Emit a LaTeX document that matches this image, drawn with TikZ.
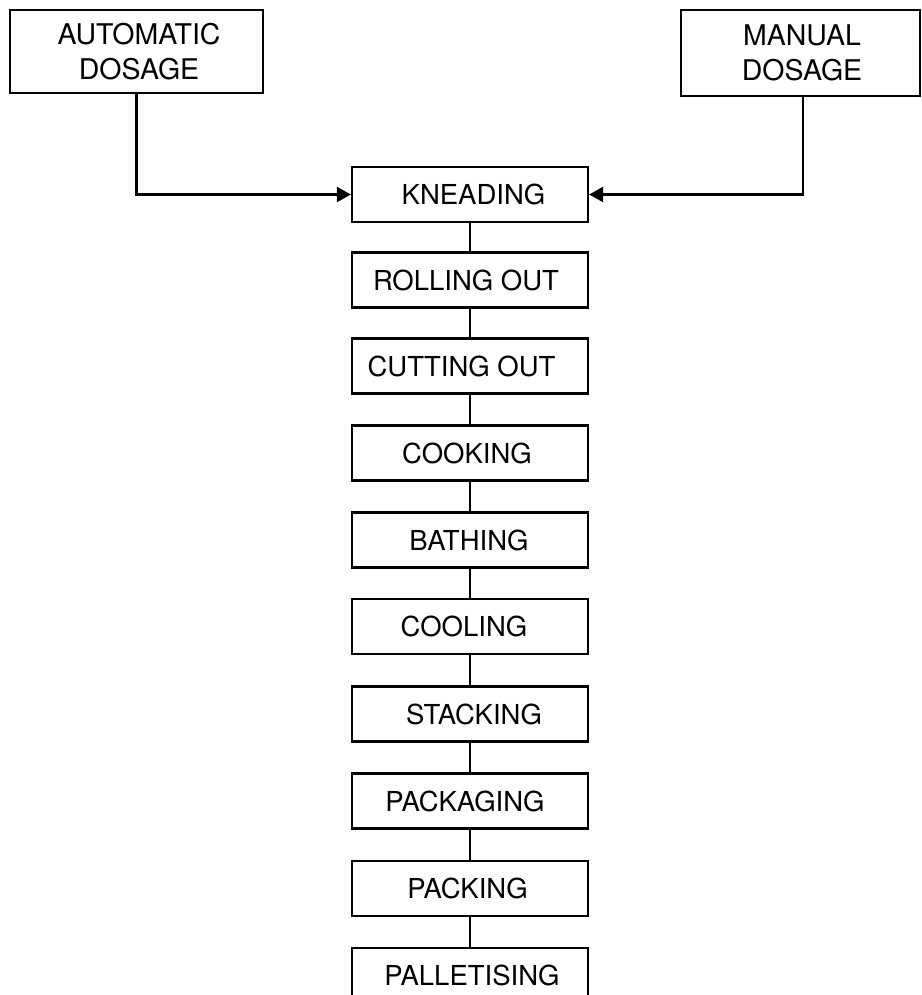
\documentclass[tikz,border=0pt]{standalone}
\usepackage{fontspec}
\setmainfont{TeX Gyre Heros}
\usetikzlibrary{arrows.meta}
\newcommand\shiftedtext[2]{\hspace*{#1}#2\hspace*{-#1}}
\begin{document}
\begin{tikzpicture}[x=1pt,y=-1pt,
  box/.style={draw=black,line width=2.3pt,rectangle,inner sep=0pt,
    font=\fontsize{27.5}{35}\selectfont,align=center},
  dosebox/.style={box,font=\fontsize{28.5}{35}\selectfont},
  stepbox/.style={box,minimum width=236pt,minimum height=55pt},
  link/.style={draw=black,line width=2.3pt},
  arr/.style={link,-{Triangle[length=14pt,width=15pt]}}]
\useasboundingbox (0,0) rectangle (921,995);
\clip (0,0) rectangle (921,995);

\node[dosebox,minimum width=253pt,minimum height=83pt] (auto) at (136.5,51.5)
  {\shiftedtext{5pt}{AUTOMATIC\\DOSAGE}};
\node[dosebox,minimum width=239pt,minimum height=86pt] (man) at (800.5,53)
  {\shiftedtext{3pt}{MANUAL\\DOSAGE}};

\node[stepbox] (s1) at (470,194.5) {\shiftedtext{3.5pt}{KNEADING}};
\node[stepbox] (s2) at (470,280) {\shiftedtext{-4pt}{ROLLING OUT}};
\node[stepbox] (s3) at (470,366) {\shiftedtext{-8.5pt}{CUTTING OUT}};
\node[stepbox] (s4) at (470,453) {\shiftedtext{-3pt}{COOKING}};
\node[stepbox] (s5) at (470,540) {\shiftedtext{-1pt}{BATHING}};
\node[stepbox] (s6) at (470,626.5) {\shiftedtext{-6pt}{COOLING}};
\node[stepbox] (s7) at (470,714) {\shiftedtext{4pt}{STACKING}};
\node[stepbox] (s8) at (470,801) {\shiftedtext{-5pt}{PACKAGING}};
\node[stepbox] (s9) at (470,888.5) {\shiftedtext{-2.5pt}{PACKING}};
\node[stepbox] (s10) at (470,975.5) {\shiftedtext{2pt}{PALLETISING}};

\draw[arr] (auto.south) |- (s1.west);
\draw[arr] ([xshift=2.5pt]man.south) |- (s1.east);
\foreach \a/\b in {s1/s2,s2/s3,s3/s4,s4/s5,s5/s6,s6/s7,s7/s8,s8/s9,s9/s10}
  \draw[link] (\a.south) -- (\b.north);
\end{tikzpicture}
\end{document}
